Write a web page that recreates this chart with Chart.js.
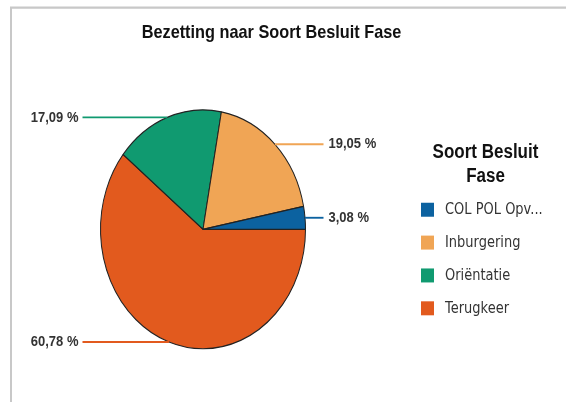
<!DOCTYPE html>
<html>
<head>
<meta charset="utf-8">
<script src="https://cdn.jsdelivr.net/npm/chart.js@4.4.0/dist/chart.umd.min.js"></script>
<style>
html, body { margin: 0; padding: 0; background: #fff; }
</style>
</head>
<body>
<canvas id="grafiek" width="566" height="402"></canvas>
<script>
const titel = 'Bezetting naar Soort Besluit Fase';
const legendaTitel = ['Soort Besluit', 'Fase'];
const categorieen = ['COL POL Opv...', 'Inburgering', 'Oriëntatie', 'Terugkeer'];
const percentages = [3.08, 19.05, 17.09, 60.78];
const kleuren = ['#0c62a0', '#f0a555', '#109a70', '#e25a1e'];

// het origineel is verticaal uitgerekt
const REK = 1.1652;

// taart loopt tegen de klok in, dus volgorde omdraaien voor Chart.js
const dataLabels = categorieen.slice().reverse();
const dataWaarden = percentages.slice().reverse();
const dataKleuren = kleuren.slice().reverse();

function formatPct(v) {
    return v.toFixed(2).replace('.', ',') + ' %';
}

const tekenPlugin = {
    id: 'tekeningen',
    beforeDraw(chart) {
        chart.ctx.save();
        chart.ctx.scale(1, REK);
    },
    afterDraw(chart) {
        const ctx = chart.ctx;
        ctx.save();

        // kader
        ctx.strokeStyle = '#c8c8c8';
        ctx.lineWidth = 2;
        ctx.beginPath();
        ctx.moveTo(566, 6.5);
        ctx.lineTo(11, 6.5);
        ctx.lineTo(11, 402 / REK);
        ctx.stroke();

        // titel
        ctx.fillStyle = '#111';
        ctx.font = 'bold 16.3px "Liberation Sans", Arial, sans-serif';
        ctx.textAlign = 'center';
        ctx.textBaseline = 'alphabetic';
        ctx.fillText(titel, 271.5, 33);

        // legenda
        ctx.font = 'bold 17px "Liberation Sans", Arial, sans-serif';
        ctx.fillText(legendaTitel[0], 485.5, 135.6);
        ctx.fillText(legendaTitel[1], 485.5, 156.2);

        ctx.textAlign = 'left';
        ctx.textBaseline = 'middle';
        ctx.font = '13px "DejaVu Sans", Verdana, sans-serif';
        categorieen.forEach((naam, i) => {
            let y = 180 + i * 28.2;
            ctx.fillStyle = kleuren[i];
            ctx.fillRect(421, y - 6, 13, 12);
            ctx.fillStyle = '#333';
            ctx.fillText(naam, 445, y + 0.5);
        });

        // labels met verbindingslijnen
        const meta = chart.getDatasetMeta(0);
        ctx.font = 'bold 13px "Liberation Sans", Arial, sans-serif';
        meta.data.forEach((arc, i) => {
            let mid = (arc.startAngle + arc.endAngle) / 2;
            let r = arc.outerRadius;
            let px = arc.x + r * Math.cos(mid);
            let py = arc.y + r * Math.sin(mid);
            let links = Math.cos(mid) < 0;
            let eindX = links ? arc.x - r - 18 : arc.x + r + 18;

            ctx.strokeStyle = dataKleuren[i];
            ctx.lineWidth = 1.6;
            ctx.beginPath();
            ctx.moveTo(px, py);
            ctx.lineTo(eindX, py);
            ctx.stroke();

            ctx.fillStyle = '#333';
            ctx.textAlign = links ? 'right' : 'left';
            ctx.fillText(formatPct(dataWaarden[i]), links ? eindX - 4 : eindX + 5, py);
        });

        ctx.restore();
        ctx.restore(); // scale uit beforeDraw
    }
};

new Chart(document.getElementById('grafiek'), {
    type: 'pie',
    data: {
        labels: dataLabels,
        datasets: [{
            data: dataWaarden,
            backgroundColor: dataKleuren,
            borderColor: '#222',
            borderWidth: 1,
            hoverOffset: 0
        }]
    },
    options: {
        responsive: false,
        animation: false,
        rotation: 90,
        layout: {
            padding: { left: 100, right: 260, top: 93.8, bottom: 102.2 }
        },
        plugins: {
            legend: { display: false },
            title: { display: false },
            tooltip: { enabled: false }
        }
    },
    plugins: [tekenPlugin]
});
</script>
</body>
</html>
